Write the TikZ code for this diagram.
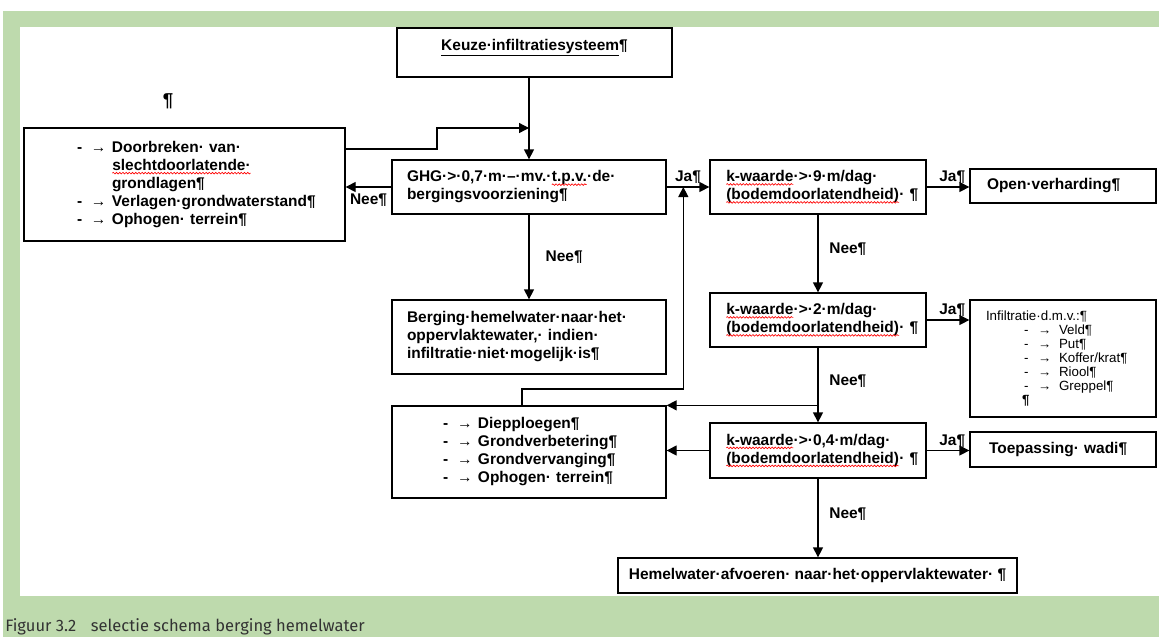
\documentclass[tikz,border=0pt]{standalone}
\usepackage{fontspec}
\setmainfont{Liberation Sans}
\newfontfamily\bijschriftfont{Fira Sans}
\usepackage{tikz}
\usetikzlibrary{arrows.meta,calc,decorations.pathmorphing}

\definecolor{kadergroen}{RGB}{190,218,173}

% opsomming: streepje, tab-pijl, tekst
\newcommand{\opsom}[2][15.75pt]{\makebox[10.5pt][l]{-}\makebox[#1][l]{→}#2}
% rode golflijn onder woorden (spellingcontrole)
\newcommand{\spell}[1]{\tikz[baseline=(sp.base)]{\node[draw=none,fill=none,inner sep=0pt,outer sep=0pt,minimum width=0pt,minimum height=0pt,text width=](sp){#1};\draw[red,line width=0.5pt,decorate,decoration={snake,amplitude=0.6pt,segment length=2.4pt}]([yshift=-2pt]sp.base west)--([yshift=-2pt]sp.base east);}}

\tikzset{
	blok/.style={draw, line width=1pt, font=\fontsize{11.6}{13.5}\selectfont\bfseries, align=left},
	maat/.code n args={3}{%
		\pgfmathsetlengthmacro\maatb{#1*0.75pt}%
		\pgfmathsetlengthmacro\maath{#2*0.75pt}%
		\pgfmathsetlengthmacro\maatt{(#1-2*#3)*0.75pt}%
		\pgfmathsetlengthmacro\maatx{#3*0.75pt}%
		\edef\maatkeys{minimum width=\maatb,minimum height=\maath,text width=\maatt,inner xsep=\maatx}%
		\expandafter\pgfkeysalso\expandafter{\maatkeys}},
	vast/.code 2 args={%
		\pgfmathsetlengthmacro\maatb{#1*0.75pt}%
		\pgfmathsetlengthmacro\maath{#2*0.75pt}%
		\edef\maatkeys{minimum width=\maatb,minimum height=\maath}%
		\expandafter\pgfkeysalso\expandafter{\maatkeys}},
	pijl/.style={line width=1pt, -{Triangle[length=7.5pt,width=7.5pt]}},
	etiket/.style={font=\fontsize{11.6}{13.5}\selectfont\bfseries, inner sep=2pt}
}

\begin{document}
\begin{tikzpicture}[x=0.75pt,y=-0.75pt]
	
	\useasboundingbox (0,0) rectangle (1159,637);
	\fill[kadergroen] (3,11) rectangle (1159,637);
	\fill[white] (20,27) rectangle (1159,596);
	\node[anchor=base west, inner sep=0pt, text=black!80, font=\bijschriftfont\fontsize{12.4}{15}\selectfont] (bijschrift) at (5,631) {Figuur 3.2\hspace{11pt}selectie schema berging hemelwater};
	
	\node[blok, vast={275}{49}, text height=9pt, text depth=12pt] (keuze) at (534.5,52.5) {\underline{Keuze·infiltratiesysteem}¶};
	\node[blok, maat={274}{54}{15}] (ghg) at (529,187) {GHG·>·0,7·m·–·mv.·\spell{t.p.v.}·de·\\bergingsvoorziening¶};
	\node[blok, maat={321}{113}{53}] (links) at (184.5,184.5) {\opsom{Doorbreken· van·}\\\hspace*{26.25pt}\spell{slechtdoorlatende·}\\\hspace*{26.25pt}grondlagen¶\\\opsom{Verlagen·grondwaterstand¶}\\\opsom{Ophogen· terrein¶}};
	\node[font=\fontsize{14}{16}\selectfont\bfseries] (losse) at (168,101) {¶};
	
	\node[blok, maat={274}{74}{15}] (berging) at (529,337) {Berging·hemelwater·naar·het·\\oppervlaktewater,· indien·\\infiltratie·niet·mogelijk·is¶};
	\node[blok, maat={274}{92}{51}] (diep) at (529,452) {\opsom{Diepploegen¶}\\\opsom{Grondverbetering¶}\\\opsom{Grondvervanging¶}\\\opsom{Ophogen· terrein¶}};
	
	\node[blok, maat={216}{54}{16}] (k1) at (818,187) {\spell{k-waarde}·>·9·m/dag·\\\spell{(bodemdoorlatendheid)}·~¶};
	\node[blok, maat={216}{54}{16}] (k2) at (818,320) {\spell{k-waarde}·>·2·m/dag·\\\spell{(bodemdoorlatendheid)}·~¶};
	\node[blok, maat={216}{55}{16}] (k3) at (818,450.5) {\spell{k-waarde}·>·0,4·m/dag·\\\spell{(bodemdoorlatendheid)}·~¶};
	
	\node[blok, maat={186}{34}{17}] (open) at (1063,186) {Open·verharding¶};
	\node[blok, maat={186}{117}{16}, font=\fontsize{10}{10.5}\selectfont] (infil) at (1063,358.5) {Infiltratie·d.m.v.:¶\\\hspace*{28.5pt}\opsom{Veld¶}\\\hspace*{28.5pt}\opsom{Put¶}\\\hspace*{28.5pt}\opsom{Koffer/krat¶}\\\hspace*{28.5pt}\opsom{Riool¶}\\\hspace*{28.5pt}\opsom{Greppel¶}\\\hspace*{27pt}\textbf{¶}};
	\node[blok, maat={186}{35}{19}] (wadi) at (1063,449.5) {Toepassing·~wadi¶};
	\node[blok, vast={399}{35}] (hemel) at (817.5,575.5) {Hemelwater·afvoeren·~naar·het·oppervlaktewater·~¶};
	
	\coordinate (terug) at (437,128);
	\coordinate (samen) at ($(ghg.east)!0.39!(k1.west)$);
	
	\draw[pijl] (keuze.south -| ghg.north) -- (ghg.north);
	\draw[pijl] (links.east |- 0,149) -| (terug) -- (terug -| ghg.north);
	\draw[pijl] (ghg.west) -- (ghg.west -| links.east) node[midway, below, yshift=-3pt, etiket] {Nee¶};
	\draw[pijl] (ghg.south) -- (berging.north) node[midway, right=10pt, etiket] {Nee¶};
	\draw[pijl] (ghg.east) -- (k1.west) node[midway, above, etiket] {Ja¶};
	\draw[pijl] ([xshift=-5.25pt]diep.north) |- (samen |- 0,389) -- (samen);
	
	\draw[pijl] (k1.east) -- (k1.east -| open.west) node[pos=0.6, above, etiket] {Ja¶};
	\draw[pijl] (k1.south) -- (k2.north) node[midway, right=6pt, yshift=3pt, etiket] {Nee¶};
	\draw[pijl] (k2.east) -- (k2.east -| infil.west) node[pos=0.6, above, etiket] {Ja¶};
	\draw[pijl] (k2.south) -- (k3.north) node[midway, right=6pt, yshift=3pt, etiket] {Nee¶};
	\draw[pijl] (k2.south |- diep.north) -- (diep.north east);
	\draw[pijl] (k3.west) -- (k3.west -| diep.east);
	\draw[pijl] (k3.east) -- (k3.east -| wadi.west) node[pos=0.6, above, etiket] {Ja¶};
	\draw[pijl] (k3.south) -- (k3.south |- hemel.north) node[midway, right=6pt, yshift=3pt, etiket] {Nee¶};
	
\end{tikzpicture}
\end{document}
